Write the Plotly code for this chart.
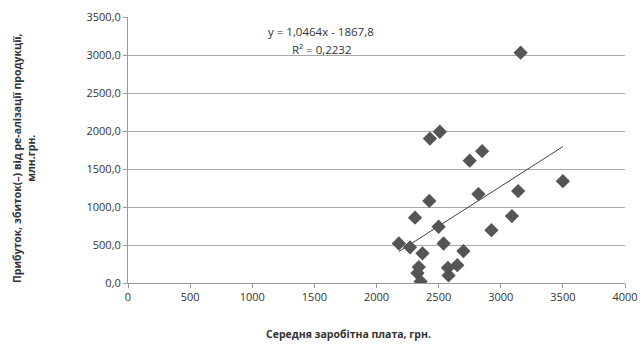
import plotly.graph_objects as go

wage = [3160, 2430, 2510, 2850, 2750, 3500, 3140, 2820, 2425, 2310, 3090, 2500,
        2925, 2180, 2270, 2540, 2370, 2700, 2650, 2340, 2575, 2330, 2580, 2355]
profit = [3030, 1900, 1990, 1735, 1610, 1340, 1210, 1170, 1080, 860, 880, 740,
          695, 520, 470, 520, 390, 420, 235, 210, 200, 130, 100, 20]

slope = 1.0464
intercept = -1867.8
eq_text = "y = 1,0464x - 1867,8"
r2_text = "R² = 0,2232"

x_ticks = [0, 500, 1000, 1500, 2000, 2500, 3000, 3500, 4000]
y_ticks = [0, 500, 1000, 1500, 2000, 2500, 3000, 3500]

x_title = "Середня заробітна плата, грн."
y_title = "Прибуток, збиток(–) від ре-алізації продукції,<br>млн.грн."

font_family = "Open Sans, Liberation Sans, sans-serif"
txt = "#333333"

L, R, T, B = 128, 17, 17, 62

fig = go.Figure()
x_line = [min(wage), max(wage)]
fig.add_trace(go.Scatter(x=x_line, y=[slope * v + intercept for v in x_line],
                         mode="lines", line=dict(color="#404040", width=1),
                         hoverinfo="skip", showlegend=False))
fig.add_trace(go.Scatter(x=wage, y=profit, mode="markers",
                         marker=dict(symbol="diamond", size=11, color="#555555"),
                         showlegend=False))

fig.update_layout(
    width=642, height=345,
    margin=dict(l=L, r=R, t=T, b=B),
    paper_bgcolor="white", plot_bgcolor="white",
    separators=", ",
    font=dict(family=font_family, size=11, color=txt),
    xaxis=dict(range=[0, 4000], tickvals=x_ticks, showgrid=False, zeroline=False,
               automargin=False,
               showline=True, linecolor="#9a9a9a", linewidth=1,
               ticks="outside", ticklen=4, tickcolor="#9a9a9a",
               tickfont=dict(size=11, color=txt)),
    yaxis=dict(range=[0, 3500], tickvals=y_ticks, tickformat=".1f",
               automargin=False,
               showgrid=True, gridcolor="#a8a8a8", gridwidth=1, zeroline=False,
               showline=True, linecolor="#9a9a9a", linewidth=1,
               ticks="outside", ticklen=4, tickcolor="#9a9a9a",
               tickfont=dict(size=11, color=txt)),
)

pw = 642 - L - R
ph = 345 - T - B


def ann(text, px, py, size, angle=0):
    return dict(text=text, xref="paper", yref="paper",
                x=(px - L) / pw, y=1 - (py - T) / ph,
                xanchor="center", yanchor="middle", showarrow=False,
                textangle=angle, font=dict(size=size, color=txt))


fig.update_layout(annotations=[
    ann(eq_text, 321, 32, 11.5),
    ann(r2_text, 322, 49, 11.5),
    ann("<b>" + x_title + "</b>", 348, 334, 10.5),
    ann("<b>" + y_title + "</b>", 24, 158, 10.5, -90),
])

fig.write_html("out.html")
